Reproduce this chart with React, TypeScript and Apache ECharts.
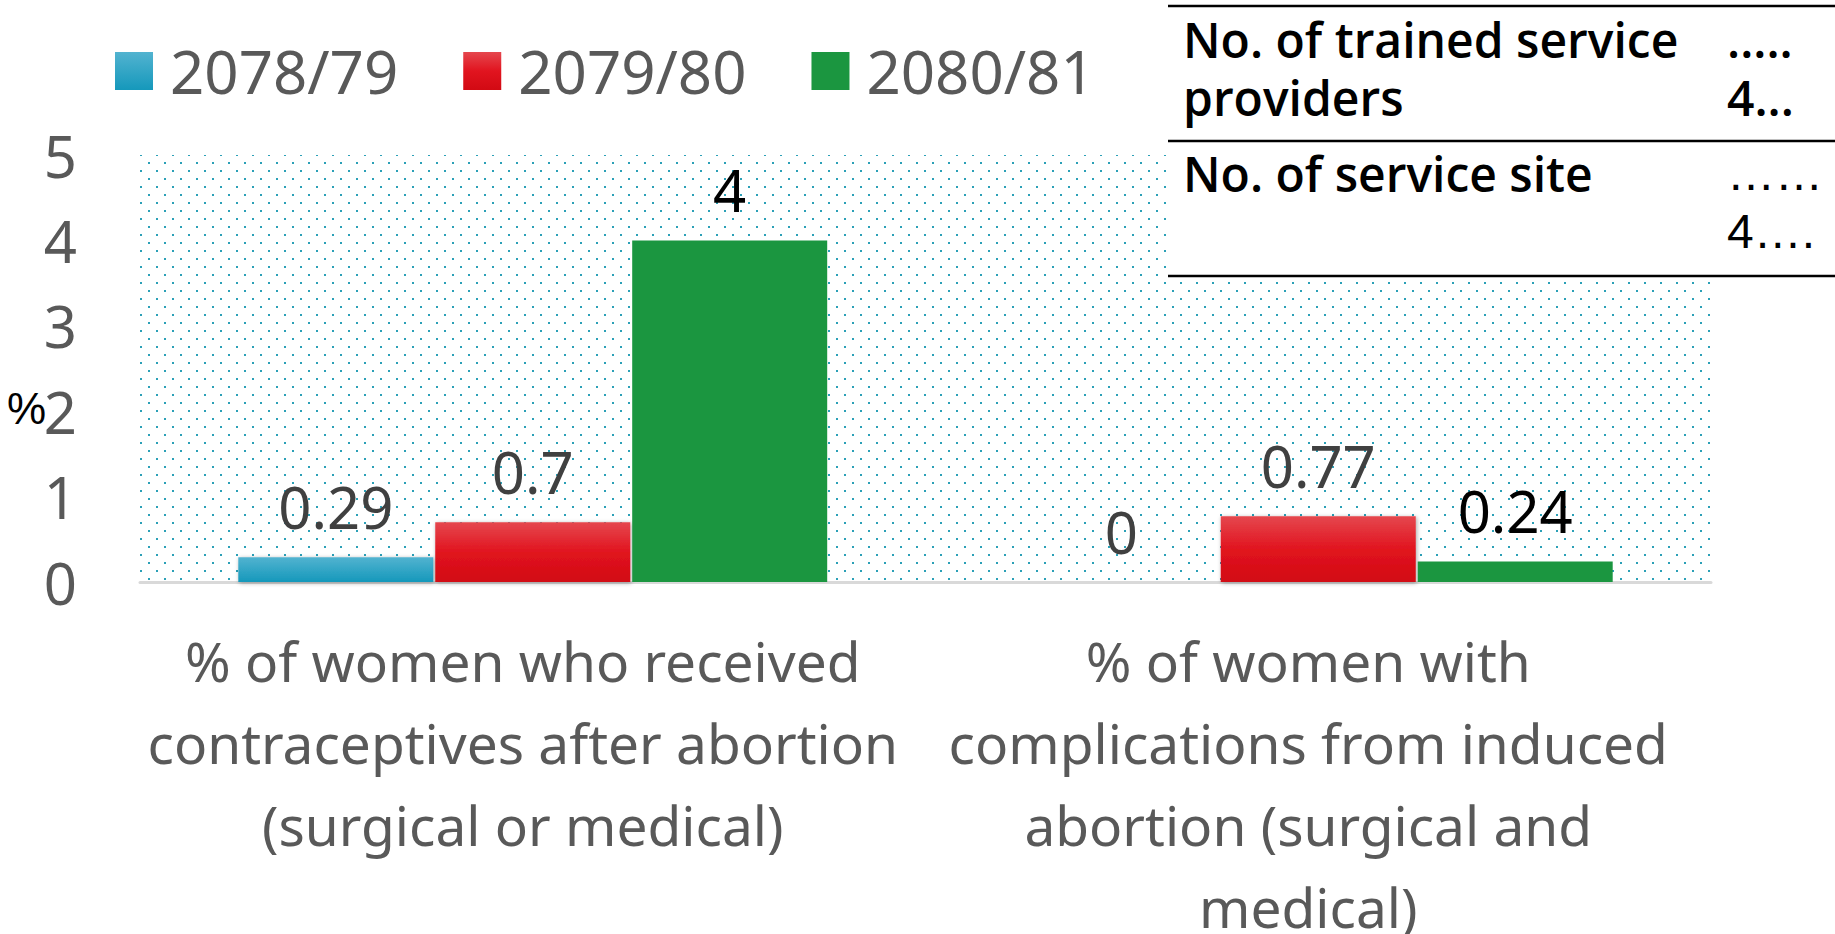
import React, { useEffect, useRef } from "react";
import * as echarts from "echarts";

const categories = [
  "% of women who received\ncontraceptives after abortion\n(surgical or medical)",
  "% of women with\ncomplications from induced\nabortion (surgical and\nmedical)",
];
const seriesNames = ["2078/79", "2079/80", "2080/81"];
const values2078 = [0.29, 0];
const values2079 = [0.7, 0.77];
const values2080 = [4, 0.24];
const yMin = 0;
const yMax = 5;
const yInterval = 1;
const yAxisName = "%";
const tableLeft = [["No. of trained service", "providers"], ["No. of service site"]];
const tableRight = [[".....", "4..."], ["……", "4…."]];

const FONT = "Noto Sans";

export default function App() {
  const ref = useRef<HTMLDivElement>(null);
  useEffect(() => {
    document.body.style.margin = "0";
    const chart = echarts.init(ref.current!, undefined, { renderer: "svg" });

    const tile = document.createElement("canvas");
    tile.width = 16;
    tile.height = 16;
    const ctx = tile.getContext("2d")!;
    ctx.fillStyle = "#2ba0b7";
    ctx.fillRect(4, 2, 2, 2);
    ctx.fillRect(12, 10, 2, 2);

    const blue = new echarts.graphic.LinearGradient(0, 0, 0, 1, [
      { offset: 0, color: "#52b3d0" },
      { offset: 1, color: "#1598bb" },
    ]);
    const red = new echarts.graphic.LinearGradient(0, 0, 0, 1, [
      { offset: 0, color: "#e5474e" },
      { offset: 0.5, color: "#e1141f" },
      { offset: 1, color: "#d20a13" },
    ]);
    const green = "#1b9640";

    const shadow = {
      shadowColor: "rgba(0,0,0,0.35)",
      shadowBlur: 4,
      shadowOffsetX: 1,
      shadowOffsetY: 1,
    };

    const labelBase = {
      show: true,
      position: "top",
      distance: 22,
      fontSize: 58,
      fontFamily: FONT,
    };

    const tableTexts: any[] = [];
    const leftX = 1183;
    const rightX = 1727;
    const ys = [[39, 97], [173, 231]];
    tableLeft.forEach((lines, r) =>
      lines.forEach((t, i) =>
        tableTexts.push({
          type: "text",
          x: leftX,
          y: ys[r][i],
          z: 20,
          style: {
            text: t,
            fontSize: 48,
            lineHeight: 50,
            fontWeight: 600,
            fontFamily: "Open Sans",
            fill: "#000",
            align: "left",
            verticalAlign: "middle",
          },
        })
      )
    );
    tableRight.forEach((lines, r) =>
      lines.forEach((t, i) =>
        tableTexts.push({
          type: "text",
          x: rightX,
          y: ys[r][i],
          z: 20,
          style: {
            text: t,
            fontSize: 48,
            lineHeight: 50,
            fontWeight: r === 0 ? 600 : 400,
            fontFamily: r === 0 ? "Open Sans" : "Liberation Sans",
            fill: "#000",
            align: "left",
            verticalAlign: "middle",
          },
        })
      )
    );

    const option: any = {
      animation: false,
      backgroundColor: "#ffffff",
      grid: {
        left: 140,
        right: 124,
        top: 155,
        bottom: 352,
        outerBoundsMode: "none",
        containLabel: false,
        show: true,
        borderWidth: 0,
        backgroundColor: { image: tile, repeat: "repeat" },
      },
      legend: {
        left: 115,
        top: 41,
        padding: 0,
        itemWidth: 38,
        itemHeight: 38,
        itemGap: 65,
        icon: "rect",
        data: seriesNames,
        textStyle: {
          fontSize: 60,
          fontFamily: FONT,
          color: "#595959",
          padding: [0, 0, 16, 12],
        },
      },
      xAxis: {
        type: "category",
        data: categories,
        axisTick: { show: false },
        axisLine: { show: true, lineStyle: { color: "#d9d9d9", width: 3 } },
        axisLabel: {
          interval: 0,
          margin: 37,
          fontSize: 55,
          lineHeight: 82,
          fontFamily: FONT,
          color: "#595959",
          padding: [0, 20, 0, 0],
        },
      },
      yAxis: {
        type: "value",
        min: yMin,
        max: yMax,
        interval: yInterval,
        splitLine: { show: false },
        axisLine: { show: false },
        axisTick: { show: false },
        axisLabel: {
          margin: 63,
          fontSize: 58,
          fontFamily: FONT,
          color: "#595959",
          padding: [0, 0, 16, 0],
        },
      },
      series: [
        {
          name: seriesNames[0],
          type: "bar",
          data: values2078,
          barWidth: 195,
          barGap: "1%",
          itemStyle: { color: blue, ...shadow },
          label: { ...labelBase, color: "#404040" },
        },
        {
          name: seriesNames[1],
          type: "bar",
          data: values2079,
          barWidth: 195,
          barGap: "1%",
          itemStyle: { color: red, ...shadow },
          label: { ...labelBase, color: "#404040" },
        },
        {
          name: seriesNames[2],
          type: "bar",
          data: values2080,
          barWidth: 195,
          barGap: "1%",
          itemStyle: { color: green },
          label: { ...labelBase, color: "#000000" },
        },
      ],
      graphic: [
        {
          type: "text",
          x: 46,
          y: 408,
          style: {
            text: yAxisName,
            fontSize: 44,
            fontFamily: "Liberation Sans",
            fill: "#000",
            align: "right",
            verticalAlign: "middle",
          },
        },
        {
          type: "rect",
          z: 10,
          shape: { x: 1168, y: 0, width: 667, height: 277 },
          style: { fill: "#ffffff" },
        },
        ...[6, 141, 276].map((y) => ({
          type: "line",
          z: 15,
          shape: { x1: 1168, y1: y, x2: 1835, y2: y },
          style: { stroke: "#000", lineWidth: 2.5 },
        })),
        ...tableTexts,
      ],
    };
    chart.setOption(option);
    return () => chart.dispose();
  }, []);
  return <div ref={ref} style={{ width: 1835, height: 934 }} />;
}
